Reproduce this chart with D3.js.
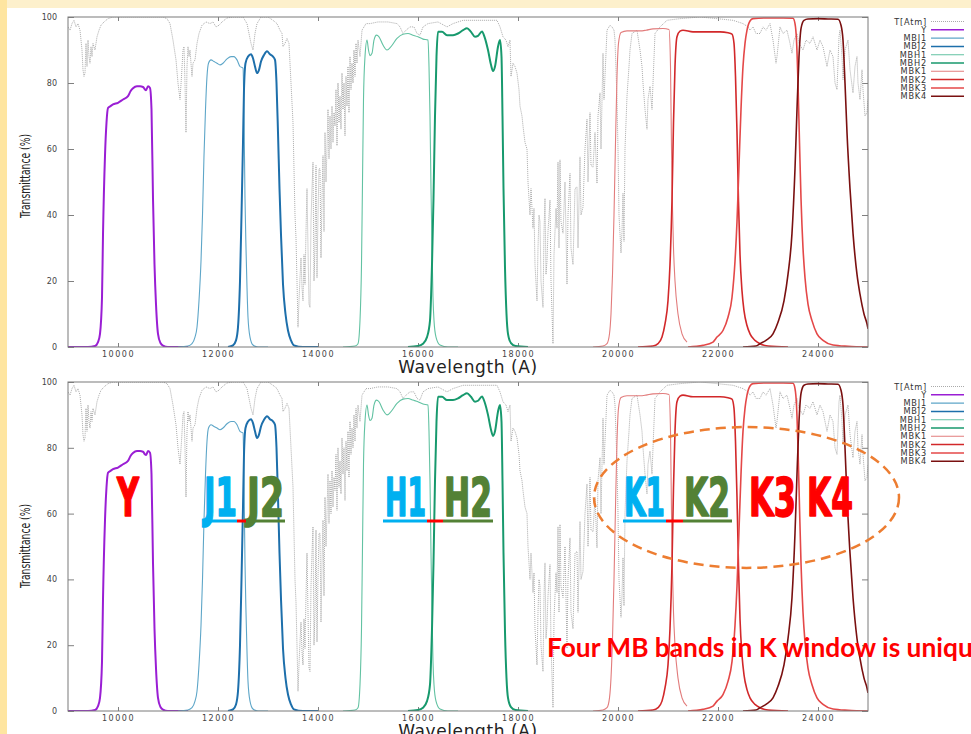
<!DOCTYPE html>
<html><head><meta charset="utf-8">
<script src="https://cdn.jsdelivr.net/npm/d3@7"></script>
<style>
html,body{margin:0;padding:0;background:#fff;overflow:hidden}
svg{display:block}
</style></head><body>
<svg id="chart" width="971" height="734"></svg>
<script>
// ---------------- DATA ----------------
const wavelengthTicks = [10000, 12000, 14000, 16000, 18000, 20000, 22000, 24000];
const transmittanceTicks = [0, 20, 40, 60, 80, 100];
const seriesNames = ["T[Atm]", "Y", "MBJ1", "MBJ2", "MBH1", "MBH2", "MBK1", "MBK2", "MBK3", "MBK4"];

// atmospheric transmission [wavelength (A), %]
const atmTransmission = [
[9000,97],[9040,96],[9080,98],[9120,99],[9160,97],[9200,98],[9240,96],[9280,90],[9300,84],[9320,82],[9340,83],[9360,92],[9380,85],[9400,93],[9420,88],[9440,86],[9460,91],[9480,88],[9500,92],[9540,90],[9580,94],[9620,96],[9660,97.5],[9720,98.5],[9800,99.5],[9900,100],[10000,100],[10500,100],[10900,100],[10980,99.5],
[11040,98],[11100,93],[11160,87],[11200,80],[11240,75],[11270,82],[11300,90],[11320,91],[11340,80],[11360,65],[11380,85],[11400,91],[11420,88],[11440,90],[11480,82],[11500,86],[11540,87],[11580,92],[11620,95],[11680,97.5],[11760,98.5],[11840,98],[11900,98.5],[11960,97],[12020,97.5],[12080,98.5],[12180,99.7],[12300,100],[12500,100],
[12580,98],[12620,95],[12660,92],[12700,90],[12740,95],[12780,98],[12860,100],[13000,100],[13100,99],[13180,98],[13240,96],[13280,95],[13300,91],[13340,92],[13380,93.5],[13420,92],[13460,80],[13500,68],[13540,40],[13560,33],[13580,20],[13600,6],[13620,14],[13640,21],[13660,27],[13680,18],[13700,14],[13720,28],[13740,19],[13760,35],[13780,48],[13800,30],[13820,13],[13840,12],[13860,38],[13880,48],[13900,56],[13920,20],[13940,30],[13960,55],[13980,21],
[14000,40],[14020,54],[14040,54],[14060,27],[14080,45],[14100,58],[14120,35],[14140,65],[14160,50],[14180,60],[14200,72],[14220,57],[14240,70],[14260,60],[14280,73],[14300,62],[14320,71],[14340,67],[14360,78],[14380,61],[14400,80],[14420,68],[14440,76],[14460,66],[14480,83],[14500,72],[14520,80],[14540,64],[14560,82],[14580,73],[14600,85],[14620,71],[14640,88],[14660,78],[14680,86],[14700,80],[14720,90],[14740,82],[14760,92],[14780,86],[14800,93],[14840,88],[14880,96],[14920,97],[14960,98],
[15040,98],[15200,98.5],[15400,98.5],[15580,98],[15640,97],[15700,95],[15760,96],[15840,97],[15920,97],[15980,95],[16040,94.5],[16100,97],[16200,98],[16400,98.5],[16580,97],[16700,98],[16900,99],[17200,99],[17400,99],[17580,99],[17640,97],[17700,94],[17760,93],[17800,91],[17840,93],[17860,82],[17900,86],[17940,85],[17980,83],
[18020,78],[18040,73],[18080,70],[18100,67],[18140,62],[18180,60],[18200,50],[18240,40],[18260,48],[18300,36],[18320,42],[18340,25],[18380,14],[18400,30],[18420,40],[18440,38],[18460,20],[18500,12],[18520,35],[18540,45],[18560,22],[18580,26],[18600,35],[18640,44.5],[18660,20],[18700,1],[18720,28],[18760,42],[18780,36],[18800,56],[18820,30],[18840,56.7],[18860,38],[18900,34.5],[18940,50],[18980,19],
[19000,40],[19040,52.6],[19060,30],[19100,25],[19140,48],[19180,48.5],[19200,30],[19240,57.6],[19260,40],[19300,42.4],[19340,60],[19380,69],[19400,50],[19440,71],[19460,55],[19500,54.5],[19540,65],[19580,49.6],[19600,70],[19640,77],[19660,60],[19700,89],[19720,75],[19780,96],[19840,97.5],[19880,97],[19920,96],[19940,93],[19980,75],
[20000,60],[20020,40],[20060,28.5],[20080,35],[20100,46.6],[20120,32],[20140,60],[20180,76],[20220,85],[20240,90],[20280,95],[20380,96],[20440,90],[20480,85],[20500,80],[20540,72],[20580,66],[20600,75],[20640,79],[20680,72],[20700,80],[20740,95],[20840,97],[20980,99],[21240,99.5],[21640,100],[21980,99.5],[22300,99],[22500,98],[22600,97],[22640,96],[22700,97],[22760,95],[22840,95],[22900,97],[22960,96],
[23040,98],[23100,93],[23160,86],[23180,88],[23240,97],[23300,95],[23380,96],[23440,92],[23480,89],[23520,93],[23580,95],[23620,92],[23700,90],[23760,93],[23840,92],[23900,94],[23980,90],[24040,93],[24100,91],[24180,85],[24240,90],[24300,88],[24340,80],[24380,78],[24420,94],[24440,96],[24480,88],[24500,81],[24540,90],[24600,93],[24640,84],[24700,77],[24740,85],[24780,88],[24800,80],[24840,75],[24880,84],[24900,78],[24940,70],[24980,71],[25000,75]
];

const bandY = [[9000,0],[9400,0],[9540,0.3],[9600,1.5],[9640,4],[9680,15],[9700,34],[9740,58],[9770,68],[9800,72.4],[9850,73],[9900,73.5],[10000,74],[10100,75],[10200,76],[10250,77.5],[10300,78.4],[10380,79],[10440,79],[10500,78.8],[10540,78],[10560,77.8],[10600,79],[10640,78.5],[10670,72],[10700,45],[10730,25],[10760,13],[10800,4],[10850,1.2],[10900,0.4],[11000,0],[11400,0]];
const bandMBJ1 = [[11200,0],[11400,0.3],[11480,1],[11540,3],[11580,6],[11620,14],[11660,26],[11690,40],[11720,58],[11750,72],[11780,82],[11810,86],[11860,87],[11920,86.5],[11980,86],[12040,85.5],[12100,86],[12180,87.3],[12260,88],[12320,88],[12380,87],[12440,85],[12500,84.5],[12520,70],[12540,45],[12560,30],[12580,18],[12600,9],[12640,3],[12700,0.6],[12800,0],[13000,0]];
const bandMBJ2 = [[12200,0],[12300,0.5],[12360,2],[12400,6],[12440,20],[12470,40],[12500,62],[12520,78],[12550,86],[12600,88],[12660,88.7],[12700,87.5],[12740,85],[12780,83],[12820,84],[12860,86.5],[12920,88.5],[12980,89.6],[13040,88.7],[13100,88],[13140,87],[13170,80],[13200,65],[13230,48],[13260,34],[13300,19],[13350,10],[13400,5],[13460,2],[13520,0.5],[13700,0],[14000,0]];
const bandMBH1 = [[14500,0],[14740,0.3],[14800,1],[14840,8],[14870,25],[14890,50],[14910,75],[14940,88],[14980,93],[15010,90],[15040,88.3],[15080,89],[15120,93],[15170,94.5],[15220,94],[15300,91.5],[15380,90],[15460,91],[15580,93.5],[15700,94.8],[15800,95],[15900,94.5],[16000,94],[16100,93.3],[16200,93],[16220,85],[16240,70],[16260,48],[16280,30],[16300,15],[16320,8],[16360,3],[16440,0.6],[16600,0],[16800,0]];
const bandMBH2 = [[15800,0],[16000,0.3],[16100,1],[16180,3],[16240,8],[16280,25],[16310,45],[16340,70],[16370,88],[16400,95.5],[16480,95.5],[16580,94.5],[16700,94.5],[16800,95],[16900,96],[16980,96.6],[17060,95.5],[17140,94],[17200,94.3],[17280,95.6],[17330,94],[17400,90],[17460,85.5],[17500,83.6],[17540,85],[17600,91],[17640,93],[17670,88],[17690,70],[17710,48],[17740,24],[17770,10],[17800,4],[17860,1.2],[17950,0.3],[18200,0]];
const bandMBK1 = [[19500,0],[19700,0.3],[19780,1],[19830,4],[19860,10],[19890,22],[19920,40],[19950,62],[19980,82],[20010,92],[20060,95.3],[20180,95.8],[20300,95.8],[20440,95.8],[20560,96],[20700,96.4],[20900,96.5],[21020,96.2],[21050,85],[21070,60],[21090,42],[21110,30],[21140,20],[21200,10],[21280,4],[21380,1.5]];
const bandMBK2 = [[20400,0],[20700,0.3],[20800,1],[20880,3],[20940,7],[21000,14],[21040,25],[21080,44.5],[21110,68],[21140,85],[21180,94],[21240,95.7],[21300,96],[21500,95.5],[21780,95.5],[22040,95.5],[22200,95.2],[22280,94.8],[22320,92],[22350,82],[22380,65],[22410,44],[22440,28],[22480,17],[22520,11],[22580,6.5],[22640,4],[22740,2],[22840,1],[23000,0.3],[23400,0]];
const bandMBK3 = [[21400,0],[21700,0.5],[21900,1.5],[21980,3],[22100,5],[22200,9],[22280,15],[22340,26],[22380,38],[22420,55],[22460,72],[22500,85],[22540,92],[22580,96],[22640,98.8],[22700,99.5],[22980,99.7],[23300,99.7],[23500,99.6],[23540,98],[23570,93],[23600,80],[23630,62],[23660,45],[23700,30],[23740,21],[23800,13],[23880,8],[23980,4],[24100,2],[24300,0.6],[24600,0.2],[25000,0]];
const bandMBK4 = [[22500,0],[22760,0.3],[22840,1],[22960,2],[23100,4],[23200,7.5],[23320,14],[23400,22],[23480,34.5],[23540,54],[23580,72],[23620,88],[23660,96.5],[23720,99],[23800,99.4],[24000,99.5],[24200,99.4],[24400,99.3],[24460,97.5],[24500,93],[24540,80],[24580,65],[24640,48],[24700,34.5],[24780,22],[24840,16],[24920,10],[24980,7],[25000,5.5]];

const seriesData = [atmTransmission, bandY, bandMBJ1, bandMBJ2, bandMBH1, bandMBH2, bandMBK1, bandMBK2, bandMBK3, bandMBK4];

// annotation labels (second panel)
const bandLabels = ["Y", "J1", "J2", "H1", "H2", "K1", "K2", "K3", "K4"];
const bandLabelStart = [9980, 11720, 12580, 15340, 16520, 20120, 21320, 22620, 23780];
const noteText = "Four MB bands in K window is unique";

// ---------------- STYLES / LAYOUT ----------------
const seriesStyle = {
  "T[Atm]": {color: "#a0a0a0", width: 0.9, dash: "1,1", curve: d3.curveLinear},
  "Y":    {color: "#9a1ed4", width: 2,   curve: d3.curveMonotoneX},
  "MBJ1": {color: "#5ea6c8", width: 1.1, curve: d3.curveMonotoneX},
  "MBJ2": {color: "#1d6fab", width: 2,   curve: d3.curveMonotoneX},
  "MBH1": {color: "#62c2a2", width: 1.1, curve: d3.curveMonotoneX},
  "MBH2": {color: "#17996d", width: 2,   curve: d3.curveMonotoneX},
  "MBK1": {color: "#e27c7c", width: 1.1, curve: d3.curveMonotoneX},
  "MBK2": {color: "#d2282a", width: 1.6, curve: d3.curveMonotoneX},
  "MBK3": {color: "#e44848", width: 1.6, curve: d3.curveMonotoneX},
  "MBK4": {color: "#7a1010", width: 1.6, curve: d3.curveMonotoneX}
};
const labelStyle = {
  "Y":  {color: "#ff0000", w: 22}, "J1": {color: "#00b0f0", w: 33}, "J2": {color: "#538135", w: 37},
  "H1": {color: "#00b0f0", w: 41}, "H2": {color: "#538135", w: 48}, "K1": {color: "#00b0f0", w: 41},
  "K2": {color: "#538135", w: 46}, "K3": {color: "#ff0000", w: 47}, "K4": {color: "#ff0000", w: 46}
};
const underlineSegs = [
  [11720, 12380, "#00b0f0"], [12380, 12560, "#ff0000"], [12560, 13340, "#538135"],
  [15300, 16180, "#00b0f0"], [16180, 16500, "#ff0000"], [16500, 17500, "#538135"],
  [20100, 20960, "#00b0f0"], [20960, 21300, "#ff0000"], [21300, 22280, "#538135"]
];

const W = 971, H = 734;
const plotLeft = 68, plotRight = 868;
const panels = [
  {top: 17, bottom: 347, yLabelCenter: 176, notes: false},
  {top: 382, bottom: 711, yLabelCenter: 546, notes: true}
];

const svg = d3.select("#chart");
svg.append("rect").attr("width", W).attr("height", H).attr("fill", "#ffffff");
svg.append("rect").attr("x", 0).attr("y", 0).attr("width", W).attr("height", 8).attr("fill", "#fdf0cc");
svg.append("rect").attr("x", 0).attr("y", 0).attr("width", 7).attr("height", H).attr("fill", "#fee5a0");

const x = d3.scaleLinear().domain([9000, 25000]).range([plotLeft, plotRight]);
const tickFont = "'DejaVu Sans', Verdana, sans-serif";
const labelFont = "'Liberation Sans Narrow', 'DejaVu Sans Condensed', sans-serif";

panels.forEach((p, pi) => {
  const y = d3.scaleLinear().domain([0, 100]).range([p.bottom, p.top]);
  const g = svg.append("g");
  const clipId = "clip" + pi;
  svg.append("defs").append("clipPath").attr("id", clipId)
    .append("rect").attr("x", plotLeft).attr("y", p.top)
    .attr("width", plotRight - plotLeft).attr("height", p.bottom - p.top);

  // axes
  const axB = g.append("g").attr("transform", `translate(0,${p.bottom})`)
    .call(d3.axisBottom(x).tickValues(wavelengthTicks).tickSizeInner(-4).tickSizeOuter(0).tickPadding(4).tickFormat(d3.format("d")));
  const axT = g.append("g").attr("transform", `translate(0,${p.top})`)
    .call(d3.axisTop(x).tickValues(wavelengthTicks).tickSizeInner(-4).tickSizeOuter(0).tickFormat(""));
  const axL = g.append("g").attr("transform", `translate(${plotLeft},0)`)
    .call(d3.axisLeft(y).tickValues(transmittanceTicks).tickSizeInner(-6).tickSizeOuter(0).tickPadding(11));
  const axR = g.append("g").attr("transform", `translate(${plotRight},0)`)
    .call(d3.axisRight(y).tickValues(transmittanceTicks).tickSizeInner(-6).tickSizeOuter(0).tickFormat(""));
  [axB, axT, axL, axR].forEach(a => {
    a.select(".domain").remove();
    a.selectAll(".tick line").attr("stroke", "#808080");
  });
  axB.selectAll("text").attr("font-family", tickFont).attr("font-size", 8).attr("letter-spacing", "1.5px").attr("fill", "#444");
  axL.selectAll("text").attr("font-family", tickFont).attr("font-size", 8).attr("fill", "#444");

  // series
  const lines = g.append("g").attr("clip-path", `url(#${clipId})`);
  seriesNames.forEach((name, i) => {
    const st = seriesStyle[name];
    const line = d3.line().x(d => x(d[0])).y(d => y(d[1])).curve(st.curve);
    lines.append("path").datum(seriesData[i])
      .attr("d", line).attr("fill", "none")
      .attr("stroke", st.color).attr("stroke-width", st.width)
      .attr("stroke-dasharray", st.dash || null)
      .attr("stroke-linejoin", "round");
  });

  // frame
  g.append("rect").attr("x", plotLeft).attr("y", p.top)
    .attr("width", plotRight - plotLeft).attr("height", p.bottom - p.top)
    .attr("fill", "none").attr("stroke", "#7a7a7a").attr("stroke-width", 1);

  // axis titles
  g.append("text").attr("x", (plotLeft + plotRight) / 2).attr("y", p.bottom + 26)
    .attr("text-anchor", "middle").attr("font-family", tickFont).attr("font-size", 17)
    .attr("letter-spacing", "0.6px").attr("fill", "#222").text("Wavelength (A)");
  g.append("text").attr("transform", `translate(30,${p.yLabelCenter}) rotate(-90)`)
    .attr("text-anchor", "middle").attr("font-family", labelFont)
    .attr("font-size", 14).attr("fill", "#222")
    .attr("textLength", 84).attr("lengthAdjust", "spacingAndGlyphs")
    .text("Transmittance (%)");

  // legend
  const lg = g.append("g");
  seriesNames.forEach((name, i) => {
    const st = seriesStyle[name];
    const cy = p.top + 4.5 + i * 8.3;
    lg.append("text").attr("x", 927).attr("y", cy + 3).attr("text-anchor", "end")
      .attr("font-family", tickFont).attr("font-size", 8.2).attr("letter-spacing", "0.8px")
      .attr("fill", "#333").text(name);
    lg.append("line").attr("x1", 931).attr("x2", 964).attr("y1", cy).attr("y2", cy)
      .attr("stroke", st.color).attr("stroke-width", Math.min(st.width, 1.5))
      .attr("stroke-dasharray", st.dash || null);
  });

  if (p.notes) {
    const ng = g.append("g");
    bandLabels.forEach((lab, i) => {
      const ls = labelStyle[lab];
      const lgp = ng.append("g").attr("transform", `translate(${x(bandLabelStart[i])},${y(59.3)})`);
      const t = lgp.append("text").attr("x", 0).attr("y", 0)
        .attr("font-family", labelFont)
        .attr("font-weight", "bold").attr("font-size", 53)
        .attr("fill", ls.color).attr("stroke", ls.color).attr("stroke-width", 1.6)
        .attr("stroke-linejoin", "round").text(lab);
      const natural = t.node().getComputedTextLength();
      t.attr("transform", `scale(${ls.w / natural},1)`);
    });
    underlineSegs.forEach(s => {
      ng.append("line").attr("x1", x(s[0])).attr("x2", x(s[1]))
        .attr("y1", y(57.75)).attr("y2", y(57.75))
        .attr("stroke", s[2]).attr("stroke-width", 3);
    });
    // ellipse
    const cx = x(22570), cy = y(64.9);
    ng.append("ellipse").attr("cx", cx).attr("cy", cy)
      .attr("rx", x(22570 + 3050) - cx).attr("ry", cy - y(64.9 + 21.4))
      .attr("fill", "none").attr("stroke", "#ed7d31").attr("stroke-width", 2.5)
      .attr("stroke-dasharray", "10,6");
    // note
    const noteG = ng.append("g").attr("transform", `translate(${x(18580)},${y(16.4)})`);
    const note = noteG.append("text").attr("x", 0).attr("y", 0)
      .attr("font-family", "Lato, 'Open Sans', sans-serif").attr("font-weight", "bold")
      .attr("font-size", 26).attr("fill", "#ff0000").text(noteText);
    const tmp = ng.append("text").attr("font-family", "Lato, 'Open Sans', sans-serif").attr("font-weight", "bold")
      .attr("font-size", 26).text(noteText.slice(0, -1));
    const partW = tmp.node().getComputedTextLength();
    tmp.remove();
    note.attr("transform", `scale(${426 / partW},1)`);
  }
});
</script>
</body></html>
